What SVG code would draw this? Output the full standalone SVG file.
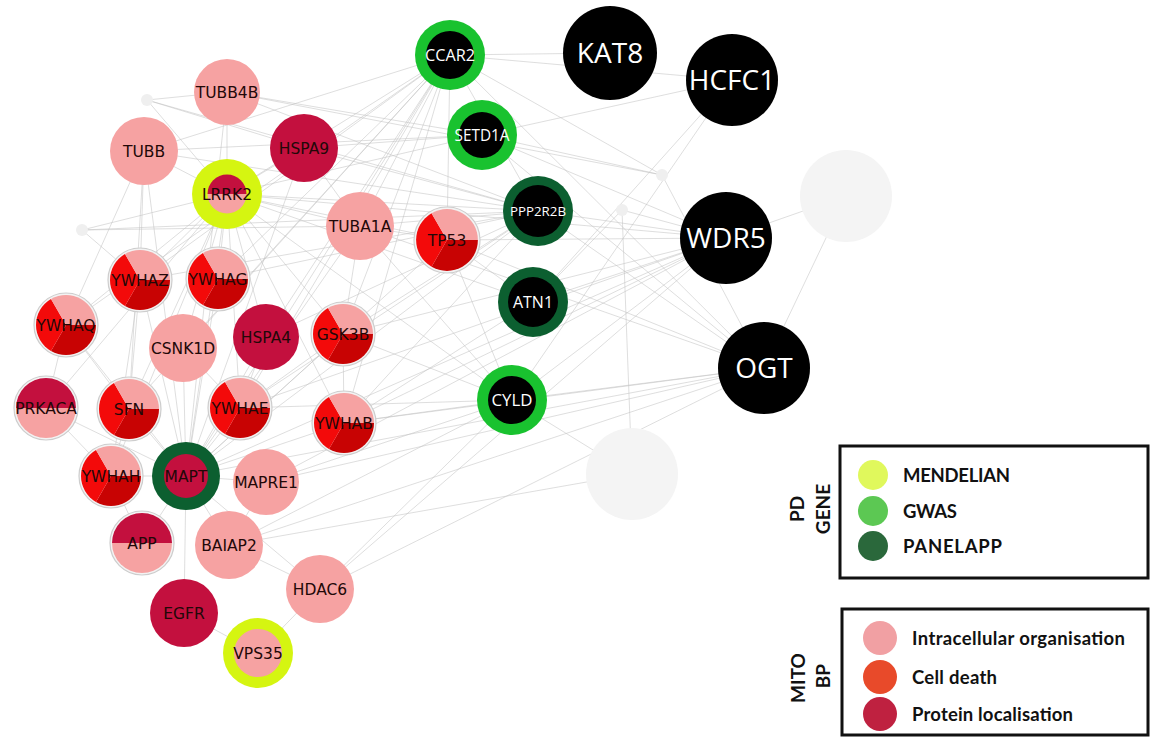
<svg xmlns="http://www.w3.org/2000/svg" width="1162" height="740" viewBox="0 0 1162 740">
<style>
  .edges line { stroke: #c2c2c2; stroke-width: 1; stroke-opacity: 0.55; }
  .pl { font-family: "DejaVu Sans", sans-serif; font-size: 15.5px; fill: #220808; text-anchor: middle; }
  .wl { font-family: "Open Sans", sans-serif; fill: #ffffff; text-anchor: middle; }
  .big { font-size: 28px; }
  .pink { fill: #f6a2a2; }
  .crim { fill: #c3103e; }
  .dr { fill: #c80303; }
  .br { fill: #f30a0a; }
  .bord { fill: #f3f3f3; stroke: #cdcdcd; stroke-width: 1.2; }
  .ghost { fill: #f4f4f4; }
  .dot { fill: #efefef; }
  .blk { fill: #000000; }
  .mend { fill: #d5f511; }
  .gwas { fill: #19c22f; }
  .panel { fill: #0c5f30; }
  .box { fill: #ffffff; stroke: #111111; stroke-width: 3; }
  .lg { font-family: Lato, "Liberation Sans", sans-serif; font-weight: 700; font-size: 18.5px; fill: #111111; }
  .lh { font-family: Lato, "Liberation Sans", sans-serif; font-weight: 700; font-size: 19px; fill: #111111; text-anchor: middle; }
</style>
<defs>
  <!-- three-way pie: localisation / cell death / organisation -->
  <g id="pie3">
    <path class="dr" d="M0 0 L30 0 A30 30 0 0 1 -15 25.98 Z"/>
    <path class="br" d="M0 0 L-15 25.98 A30 30 0 0 1 -15 -25.98 Z"/>
    <path class="pink" d="M0 0 L-15 -25.98 A30 30 0 0 1 30 0 Z"/>
  </g>
  <!-- two-way pie: protein localisation on top, organisation below -->
  <g id="pie2">
    <path class="crim" d="M-30 0 A30 30 0 0 1 30 0 Z"/>
    <path class="pink" d="M30 0 A30 30 0 0 1 -30 0 Z"/>
  </g>
</defs>

<rect width="1162" height="740" fill="#ffffff"/>

<g id="connectors" class="edges">
  <!-- MAPT -->
  <line x1="186" y1="476" x2="183" y2="348"/>
  <line x1="186" y1="476" x2="240" y2="408"/>
  <line x1="186" y1="476" x2="129" y2="409"/>
  <line x1="186" y1="476" x2="111" y2="476"/>
  <line x1="186" y1="476" x2="266" y2="482"/>
  <line x1="186" y1="476" x2="229" y2="545"/>
  <line x1="186" y1="476" x2="184" y2="613"/>
  <line x1="186" y1="476" x2="142" y2="543"/>
  <line x1="186" y1="476" x2="140" y2="280"/>
  <line x1="186" y1="476" x2="218" y2="279"/>
  <line x1="186" y1="476" x2="266" y2="337"/>
  <line x1="186" y1="476" x2="343" y2="334"/>
  <line x1="186" y1="476" x2="66" y2="325"/>
  <line x1="186" y1="476" x2="227" y2="194"/>
  <line x1="186" y1="476" x2="144" y2="151"/>
  <line x1="186" y1="476" x2="227" y2="92"/>
  <line x1="186" y1="476" x2="360" y2="226"/>
  <line x1="186" y1="476" x2="344" y2="423"/>
  <line x1="186" y1="476" x2="46" y2="408"/>
  <line x1="186" y1="476" x2="304" y2="148"/>
  <line x1="186" y1="476" x2="447" y2="240"/>
  <line x1="186" y1="476" x2="320" y2="589"/>
  <line x1="186" y1="476" x2="450" y2="55"/>
  <line x1="186" y1="476" x2="538" y2="211"/>
  <line x1="186" y1="476" x2="726" y2="238"/>
  <line x1="186" y1="476" x2="764" y2="368"/>
  <!-- LRRK2 -->
  <line x1="227" y1="194" x2="144" y2="151"/>
  <line x1="227" y1="194" x2="227" y2="92"/>
  <line x1="227" y1="194" x2="304" y2="148"/>
  <line x1="227" y1="194" x2="360" y2="226"/>
  <line x1="227" y1="194" x2="140" y2="280"/>
  <line x1="227" y1="194" x2="218" y2="279"/>
  <line x1="227" y1="194" x2="66" y2="325"/>
  <line x1="227" y1="194" x2="183" y2="348"/>
  <line x1="227" y1="194" x2="266" y2="337"/>
  <line x1="227" y1="194" x2="343" y2="334"/>
  <line x1="227" y1="194" x2="129" y2="409"/>
  <line x1="227" y1="194" x2="240" y2="408"/>
  <line x1="227" y1="194" x2="344" y2="423"/>
  <line x1="227" y1="194" x2="46" y2="408"/>
  <line x1="227" y1="194" x2="111" y2="476"/>
  <line x1="227" y1="194" x2="538" y2="211"/>
  <line x1="227" y1="194" x2="482" y2="135"/>
  <line x1="227" y1="194" x2="450" y2="55"/>
  <line x1="227" y1="194" x2="726" y2="238"/>
  <line x1="227" y1="194" x2="82" y2="230"/>
  <line x1="227" y1="194" x2="447" y2="240"/>
  <line x1="227" y1="194" x2="147" y2="100"/>
  <line x1="227" y1="194" x2="533" y2="302"/>
  <line x1="227" y1="194" x2="512" y2="400"/>
  <!-- CCAR2 -->
  <line x1="450" y1="55" x2="610" y2="53"/>
  <line x1="450" y1="55" x2="144" y2="151"/>
  <line x1="450" y1="55" x2="140" y2="280"/>
  <line x1="450" y1="55" x2="218" y2="279"/>
  <line x1="450" y1="55" x2="66" y2="325"/>
  <line x1="450" y1="55" x2="183" y2="348"/>
  <line x1="450" y1="55" x2="266" y2="337"/>
  <line x1="450" y1="55" x2="129" y2="409"/>
  <line x1="450" y1="55" x2="240" y2="408"/>
  <line x1="450" y1="55" x2="447" y2="240"/>
  <line x1="450" y1="55" x2="764" y2="368"/>
  <line x1="450" y1="55" x2="538" y2="211"/>
  <line x1="450" y1="55" x2="360" y2="226"/>
  <line x1="450" y1="55" x2="343" y2="334"/>
  <line x1="450" y1="55" x2="344" y2="423"/>
  <line x1="450" y1="55" x2="732" y2="80"/>
  <!-- SETD1A -->
  <line x1="482" y1="135" x2="732" y2="80"/>
  <line x1="482" y1="135" x2="726" y2="238"/>
  <line x1="482" y1="135" x2="764" y2="368"/>
  <line x1="482" y1="135" x2="227" y2="92"/>
  <line x1="482" y1="135" x2="304" y2="148"/>
  <line x1="482" y1="135" x2="662" y2="175"/>
  <line x1="482" y1="135" x2="144" y2="151"/>
  <!-- PPP2R2B -->
  <line x1="538" y1="211" x2="227" y2="92"/>
  <line x1="538" y1="211" x2="144" y2="151"/>
  <line x1="538" y1="211" x2="304" y2="148"/>
  <line x1="538" y1="211" x2="360" y2="226"/>
  <line x1="538" y1="211" x2="147" y2="100"/>
  <line x1="538" y1="211" x2="82" y2="230"/>
  <line x1="538" y1="211" x2="726" y2="238"/>
  <line x1="538" y1="211" x2="764" y2="368"/>
  <line x1="538" y1="211" x2="240" y2="408"/>
  <line x1="538" y1="211" x2="343" y2="334"/>
  <line x1="538" y1="211" x2="344" y2="423"/>
  <line x1="538" y1="211" x2="140" y2="280"/>
  <line x1="538" y1="211" x2="218" y2="279"/>
  <line x1="538" y1="211" x2="266" y2="337"/>
  <!-- ATN1 -->
  <line x1="533" y1="302" x2="726" y2="238"/>
  <line x1="533" y1="302" x2="732" y2="80"/>
  <line x1="533" y1="302" x2="447" y2="240"/>
  <line x1="533" y1="302" x2="344" y2="423"/>
  <line x1="533" y1="302" x2="622" y2="210"/>
  <!-- CYLD -->
  <line x1="512" y1="400" x2="726" y2="238"/>
  <line x1="512" y1="400" x2="764" y2="368"/>
  <line x1="512" y1="400" x2="343" y2="334"/>
  <line x1="512" y1="400" x2="344" y2="423"/>
  <line x1="512" y1="400" x2="360" y2="226"/>
  <line x1="512" y1="400" x2="266" y2="482"/>
  <line x1="512" y1="400" x2="632" y2="474"/>
  <line x1="512" y1="400" x2="732" y2="80"/>
  <line x1="512" y1="400" x2="240" y2="408"/>
  <line x1="512" y1="400" x2="320" y2="589"/>
  <line x1="512" y1="400" x2="229" y2="545"/>
  <line x1="512" y1="400" x2="447" y2="240"/>
  <!-- WDR5 -->
  <line x1="726" y1="238" x2="846" y2="196"/>
  <line x1="726" y1="238" x2="320" y2="589"/>
  <line x1="726" y1="238" x2="344" y2="423"/>
  <line x1="726" y1="238" x2="343" y2="334"/>
  <line x1="726" y1="238" x2="447" y2="240"/>
  <line x1="726" y1="238" x2="240" y2="408"/>
  <line x1="726" y1="238" x2="266" y2="482"/>
  <line x1="726" y1="238" x2="622" y2="210"/>
  <!-- OGT -->
  <line x1="764" y1="368" x2="846" y2="196"/>
  <line x1="764" y1="368" x2="320" y2="589"/>
  <line x1="764" y1="368" x2="266" y2="482"/>
  <line x1="764" y1="368" x2="229" y2="545"/>
  <line x1="764" y1="368" x2="344" y2="423"/>
  <line x1="764" y1="368" x2="447" y2="240"/>
  <line x1="764" y1="368" x2="360" y2="226"/>
  <line x1="764" y1="368" x2="662" y2="175"/>
  <!-- unlabelled nodes -->
  <line x1="632" y1="474" x2="622" y2="210"/>
  <line x1="632" y1="474" x2="229" y2="545"/>
  <line x1="662" y1="175" x2="227" y2="92"/>
  <line x1="662" y1="175" x2="450" y2="55"/>
  <!-- left cluster -->
  <line x1="144" y1="151" x2="140" y2="280"/>
  <line x1="144" y1="151" x2="66" y2="325"/>
  <line x1="144" y1="151" x2="129" y2="409"/>
  <line x1="66" y1="325" x2="129" y2="409"/>
  <line x1="66" y1="325" x2="46" y2="408"/>
  <line x1="140" y1="280" x2="129" y2="409"/>
  <line x1="140" y1="280" x2="111" y2="476"/>
  <line x1="183" y1="348" x2="240" y2="408"/>
  <line x1="266" y1="337" x2="240" y2="408"/>
  <line x1="343" y1="334" x2="240" y2="408"/>
  <line x1="343" y1="334" x2="344" y2="423"/>
  <line x1="129" y1="409" x2="111" y2="476"/>
  <line x1="46" y1="408" x2="111" y2="476"/>
  <line x1="142" y1="543" x2="111" y2="476"/>
  <line x1="229" y1="545" x2="320" y2="589"/>
  <line x1="320" y1="589" x2="258" y2="653"/>
  <line x1="184" y1="613" x2="258" y2="653"/>
  <line x1="229" y1="545" x2="266" y2="482"/>
  <line x1="360" y1="226" x2="447" y2="240"/>
  <line x1="360" y1="226" x2="343" y2="334"/>
  <line x1="304" y1="148" x2="360" y2="226"/>
  <line x1="147" y1="100" x2="227" y2="92"/>
  <line x1="147" y1="100" x2="304" y2="148"/>
  <line x1="82" y1="230" x2="360" y2="226"/>
  <line x1="82" y1="230" x2="140" y2="280"/>
</g>

<!-- unlabelled background nodes -->
<g id="bg1"><circle class="ghost" cx="846" cy="196" r="46"/></g>
<g id="bg2"><circle class="ghost" cx="632" cy="474" r="46"/></g>
<g id="bg3"><circle class="dot" cx="147" cy="100" r="6"/></g>
<g id="bg4"><circle class="dot" cx="82" cy="230" r="6"/></g>
<g id="bg5"><circle class="dot" cx="662" cy="175" r="6"/></g>
<g id="bg6"><circle class="dot" cx="622" cy="210" r="6"/></g>

<!-- single-category nodes -->
<g id="TUBB4B" transform="translate(227,92)"><circle class="pink" r="33"/><text class="pl" y="6">TUBB4B</text></g>
<g id="TUBB" transform="translate(144,151)"><circle class="pink" r="34"/><text class="pl" y="6">TUBB</text></g>
<g id="HSPA9" transform="translate(304,148)"><circle class="crim" r="34"/><text class="pl" y="6">HSPA9</text></g>
<g id="TUBA1A" transform="translate(360,226)"><circle class="pink" r="34"/><text class="pl" y="6">TUBA1A</text></g>
<g id="CSNK1D" transform="translate(183,348)"><circle class="pink" r="34"/><text class="pl" y="6">CSNK1D</text></g>
<g id="HSPA4" transform="translate(266,337)"><circle class="crim" r="33"/><text class="pl" y="6">HSPA4</text></g>
<g id="MAPRE1" transform="translate(266,482)"><circle class="pink" r="33"/><text class="pl" y="6">MAPRE1</text></g>
<g id="BAIAP2" transform="translate(229,545)"><circle class="pink" r="34"/><text class="pl" y="6">BAIAP2</text></g>
<g id="HDAC6" transform="translate(320,589)"><circle class="pink" r="34"/><text class="pl" y="6">HDAC6</text></g>
<g id="EGFR" transform="translate(184,613)"><circle class="crim" r="34"/><text class="pl" y="6">EGFR</text></g>

<!-- multi-category nodes -->
<g id="TP53" transform="translate(447,240)"><circle class="bord" r="33"/><use href="#pie3" transform="scale(1.03)"/><text class="pl" y="6">TP53</text></g>
<g id="YWHAZ" transform="translate(140,280)"><circle class="bord" r="32"/><use href="#pie3"/><text class="pl" y="6">YWHAZ</text></g>
<g id="YWHAG" transform="translate(218,279)"><circle class="bord" r="32"/><use href="#pie3"/><text class="pl" y="6">YWHAG</text></g>
<g id="YWHAQ" transform="translate(66,325)"><circle class="bord" r="32"/><use href="#pie3"/><text class="pl" y="6">YWHAQ</text></g>
<g id="GSK3B" transform="translate(343,334)"><circle class="bord" r="32"/><use href="#pie3"/><text class="pl" y="6">GSK3B</text></g>
<g id="PRKACA" transform="translate(46,408)"><circle class="bord" r="32"/><use href="#pie2"/><text class="pl" y="6">PRKACA</text></g>
<g id="SFN" transform="translate(129,409)"><circle class="bord" r="32"/><use href="#pie3"/><text class="pl" y="6">SFN</text></g>
<g id="YWHAE" transform="translate(240,408)"><circle class="bord" r="32"/><use href="#pie3"/><text class="pl" y="6">YWHAE</text></g>
<g id="YWHAB" transform="translate(344,423)"><circle class="bord" r="32"/><use href="#pie3"/><text class="pl" y="6">YWHAB</text></g>
<g id="YWHAH" transform="translate(111,476)"><circle class="bord" r="32"/><use href="#pie3"/><text class="pl" y="6">YWHAH</text></g>
<g id="APP" transform="translate(142,543)"><circle class="bord" r="32"/><use href="#pie2"/><text class="pl" y="6">APP</text></g>

<!-- PD genes in the cluster -->
<g id="LRRK2" transform="translate(227,194)"><circle class="mend" r="35"/><use href="#pie2" transform="scale(0.65)"/><text class="pl" y="6">LRRK2</text></g>
<g id="MAPT" transform="translate(186,476)"><circle class="panel" r="34"/><circle class="crim" r="22"/><text class="pl" y="6">MAPT</text></g>
<g id="VPS35" transform="translate(258,653)"><circle class="mend" r="35"/><circle class="pink" r="24"/><text class="pl" y="6">VPS35</text></g>

<!-- PD genes without process annotation -->
<g id="CCAR2" transform="translate(450,55)"><circle class="gwas" r="35"/><circle class="blk" r="24"/><text class="wl" y="5.5" font-size="15.5" textLength="50" lengthAdjust="spacingAndGlyphs">CCAR2</text></g>
<g id="SETD1A" transform="translate(482,135)"><circle class="gwas" r="35"/><circle class="blk" r="23"/><text class="wl" y="5.5" font-size="15.5" textLength="55" lengthAdjust="spacingAndGlyphs">SETD1A</text></g>
<g id="PPP2R2B" transform="translate(538,211)"><circle class="panel" r="35"/><circle class="blk" r="26"/><text class="wl" y="5" font-size="13.5" textLength="56" lengthAdjust="spacingAndGlyphs">PPP2R2B</text></g>
<g id="ATN1" transform="translate(533,302)"><circle class="panel" r="35"/><circle class="blk" r="25"/><text class="wl" y="5.5" font-size="16" textLength="40" lengthAdjust="spacingAndGlyphs">ATN1</text></g>
<g id="CYLD" transform="translate(512,400)"><circle class="gwas" r="35"/><circle class="blk" r="24"/><text class="wl" y="5.5" font-size="16" textLength="41" lengthAdjust="spacingAndGlyphs">CYLD</text></g>

<!-- other interactors -->
<g id="KAT8" transform="translate(610,53)"><circle class="blk" r="47"/><text class="wl big" y="10">KAT8</text></g>
<g id="HCFC1" transform="translate(732,80)"><circle class="blk" r="46"/><text class="wl big" y="10">HCFC1</text></g>
<g id="WDR5" transform="translate(726,238)"><circle class="blk" r="46"/><text class="wl big" y="10">WDR5</text></g>
<g id="OGT" transform="translate(764,368)"><circle class="blk" r="46"/><text class="wl big" y="10">OGT</text></g>

<!-- legend: PD gene source -->
<g id="legend-pd-gene">
  <rect class="box" x="840" y="446" width="308" height="132"/>
  <text class="lh" transform="translate(804,509) rotate(-90)">PD</text>
  <text class="lh" transform="translate(830,509) rotate(-90)">GENE</text>
  <circle cx="873" cy="475" r="15" fill="#e0f85c"/>
  <circle cx="873" cy="511" r="15" fill="#5cc853"/>
  <circle cx="873" cy="546" r="15" fill="#2a683b"/>
  <text class="lg" x="903" y="482" textLength="107">MENDELIAN</text>
  <text class="lg" x="903" y="518" textLength="54">GWAS</text>
  <text class="lg" x="903" y="553" textLength="99">PANELAPP</text>
</g>

<!-- legend: mitochondrial biological process -->
<g id="legend-mito-bp">
  <rect class="box" x="842" y="609" width="306" height="126"/>
  <text class="lh" transform="translate(805,678) rotate(-90)">MITO</text>
  <text class="lh" transform="translate(830,676) rotate(-90)">BP</text>
  <circle cx="880" cy="638" r="17" fill="#f1a0a3"/>
  <circle cx="880" cy="677" r="17" fill="#e84a2a"/>
  <circle cx="880" cy="714" r="17" fill="#bf2140"/>
  <text class="lg" x="912" y="645" textLength="213">Intracellular organisation</text>
  <text class="lg" x="912" y="684" textLength="85">Cell death</text>
  <text class="lg" x="912" y="721" textLength="161">Protein localisation</text>
</g>
</svg>
